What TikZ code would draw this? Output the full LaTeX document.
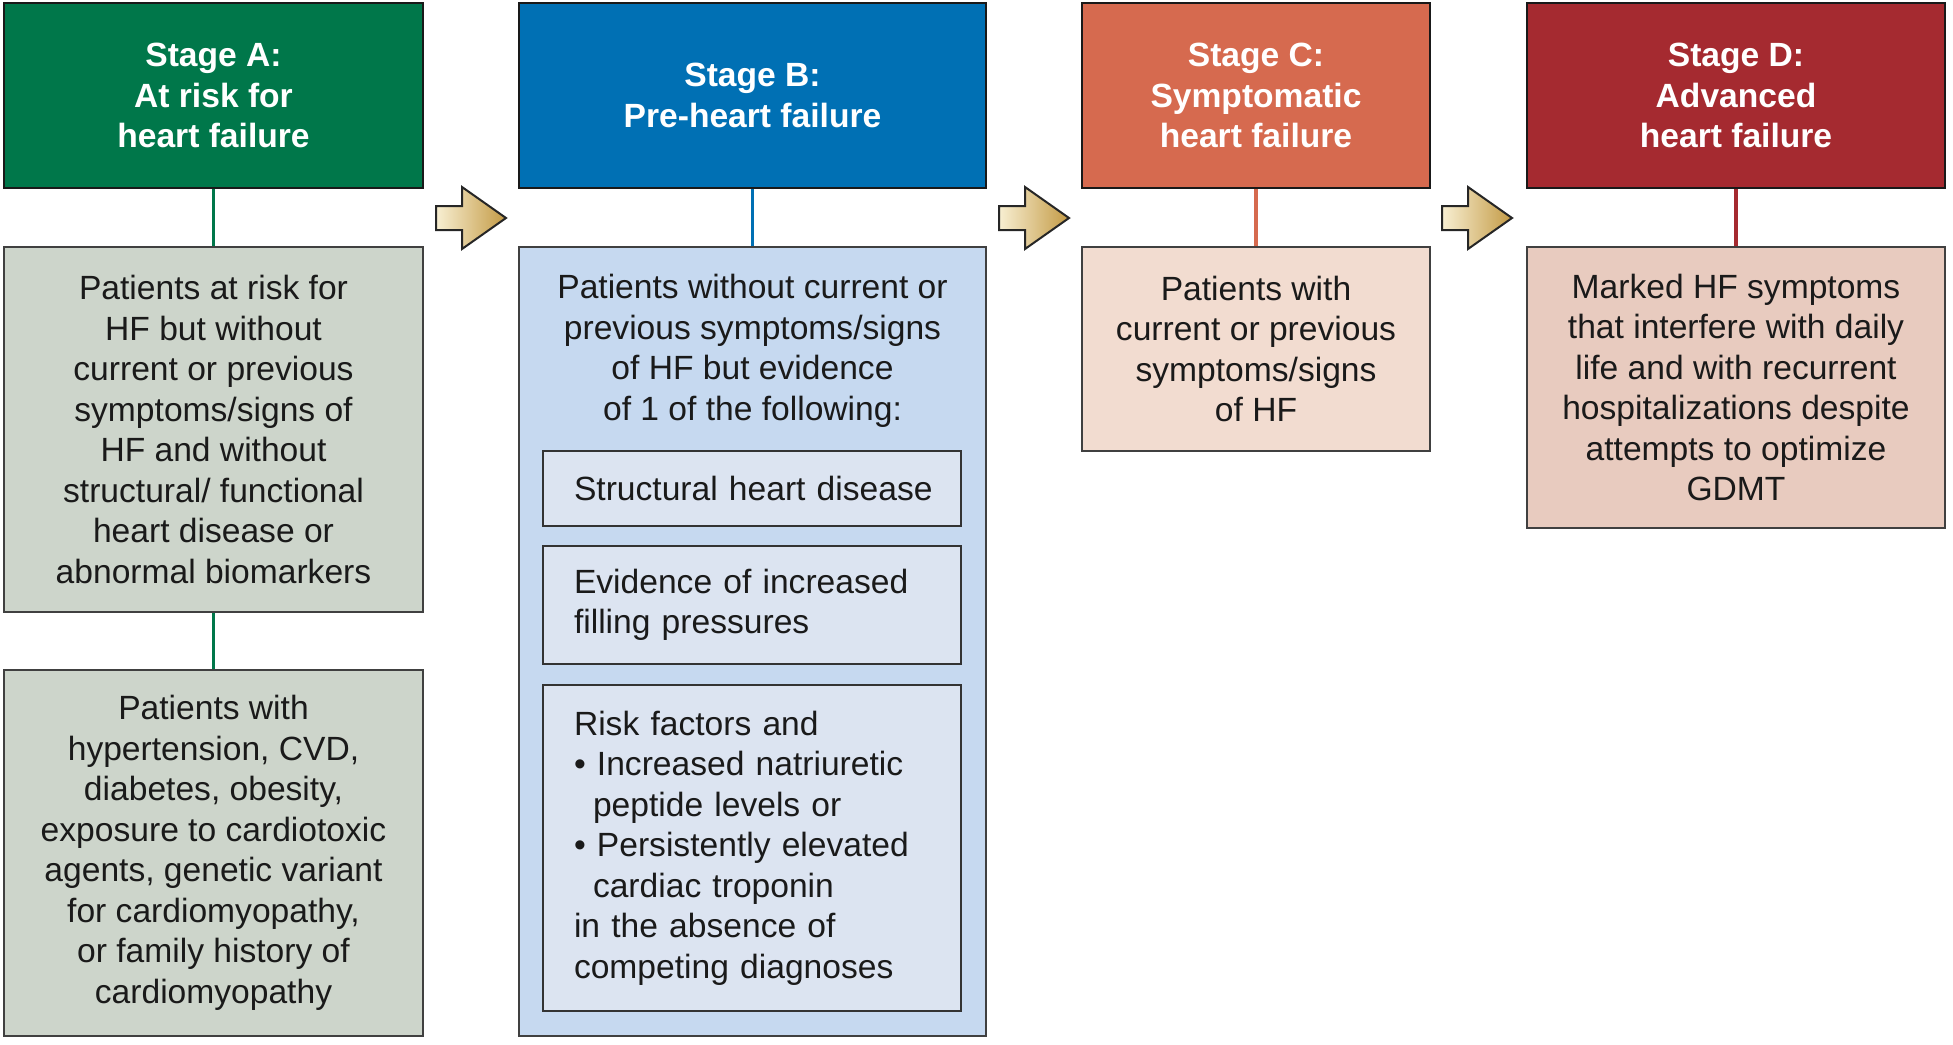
\documentclass[tikz,border=0pt]{standalone}
\usepackage{fontspec}
\setmainfont{Liberation Sans}
\definecolor{colA}{HTML}{00774A}
\definecolor{colB}{HTML}{0070B4}
\definecolor{colC}{HTML}{D66A4F}
\definecolor{colD}{HTML}{A52A30}
\definecolor{fillA}{HTML}{CDD5CB}
\definecolor{fillB}{HTML}{C6D9F0}
\definecolor{fillBi}{HTML}{DCE4F1}
\definecolor{fillC}{HTML}{F2DCD0}
\definecolor{fillD}{HTML}{E8CBBF}
\definecolor{arrowL}{HTML}{F8EFD2}
\definecolor{arrowR}{HTML}{C39A45}
\definecolor{ink}{HTML}{1A1A1A}
\begin{document}
\begin{tikzpicture}[x=0.5pt,y=-0.5pt,
  hdr/.style={draw=black!90, line width=1.3pt, text=white,
    font=\bfseries\fontsize{16.8}{20.25}\selectfont, align=center, inner sep=0pt},
  stagebox/.style={draw=black!75, line width=1.2pt, text=ink,
    font=\fontsize{16.8}{20.25}\selectfont, align=center, inner sep=0pt},
  subbox/.style={draw=black!80, line width=1.2pt, fill=fillBi, text=ink,
    font=\fontsize{16.8}{20.25}\selectfont, align=left, text width=178pt,
    inner xsep=15.5pt, inner ysep=0pt},
  plaintext/.style={text=ink, font=\fontsize{16.8}{20.25}\selectfont,
    align=center, inner sep=0pt},
  link/.style={line width=1.6pt},
  blockarrow/.style={draw=black!85, line width=1pt, left color=arrowL,
    right color=arrowR, line join=miter}
]
\useasboundingbox (0,0) rectangle (1953,1044);

% Stage A
\node[hdr, fill=colA, minimum width=209.5pt, minimum height=92.5pt] (hA) at (213.5,95.5)
  {Stage A:\\At risk for\\heart failure};
\node[stagebox, fill=fillA, minimum width=209.5pt, minimum height=182.5pt] (bA1) at (213.5,429.5)
  {Patients at risk for\\HF but without\\current or previous\\symptoms/signs of\\HF and without\\structural/ functional\\heart disease or\\abnormal biomarkers};
\node[stagebox, fill=fillA, minimum width=209.5pt, minimum height=183pt] (bA2) at (213.5,853)
  {Patients with\\hypertension, CVD,\\diabetes, obesity,\\exposure to cardiotoxic\\agents, genetic variant\\for cardiomyopathy,\\or family history of\\cardiomyopathy};
\draw[link, colA] (hA.south) -- (bA1.north);
\draw[link, colA] (bA1.south) -- (bA2.north);

% Stage B
\node[hdr, fill=colB, minimum width=233.5pt, minimum height=92.5pt] (hB) at (752.5,95.5)
  {Stage B:\\Pre-heart failure};
\node[stagebox, fill=fillB, minimum width=233.5pt, minimum height=394.5pt] (bB) at (752.5,641.5) {};
\node[plaintext, anchor=north] (tB) at (752.5,274)
  {Patients without current or\\previous symptoms/signs\\of HF but evidence\\of 1 of the following:};
\node[subbox, minimum height=37.5pt] (sB1) at (752,488.5) {\mbox{Structural heart disease}};
\node[subbox, minimum height=59pt] (sB2) at (752,605) {Evidence of increased\\filling pressures};
\node[subbox, minimum height=163pt] (sB3) at (752,848)
  {Risk factors and\\%
   \textbullet\ Increased natriuretic\\%
   \hspace*{9.5pt}peptide levels or\\%
   \textbullet\ Persistently elevated\\%
   \hspace*{9.5pt}cardiac troponin\\%
   in the absence of\\%
   competing diagnoses};
\draw[link, colB] (hB.south) -- (bB.north);

% Stage C
\node[hdr, fill=colC, minimum width=174pt, minimum height=92.5pt] (hC) at (1256,95.5)
  {Stage C:\\Symptomatic\\heart failure};
\node[stagebox, fill=fillC, minimum width=174pt, minimum height=102pt] (bC) at (1256,349)
  {Patients with\\current or previous\\symptoms/signs\\of HF};
\draw[link, colC] (hC.south) -- (bC.north);

% Stage D
\node[hdr, fill=colD, minimum width=209pt, minimum height=92.5pt] (hD) at (1736,95.5)
  {Stage D:\\Advanced\\heart failure};
\node[stagebox, fill=fillD, minimum width=209pt, minimum height=140.5pt] (bD) at (1736,387.5)
  {Marked HF symptoms\\that interfere with daily\\life and with recurrent\\hospitalizations despite\\attempts to optimize\\GDMT};
\draw[link, colD] (hD.south) -- (bD.north);

% Block arrows between stages
\foreach \o in {0,563,1006}{
  \path[blockarrow] (436+\o,206) -- (462+\o,206) -- (462+\o,187) -- (506+\o,218)
    -- (462+\o,249) -- (462+\o,230) -- (436+\o,230) -- cycle;
}
\end{tikzpicture}
\end{document}
